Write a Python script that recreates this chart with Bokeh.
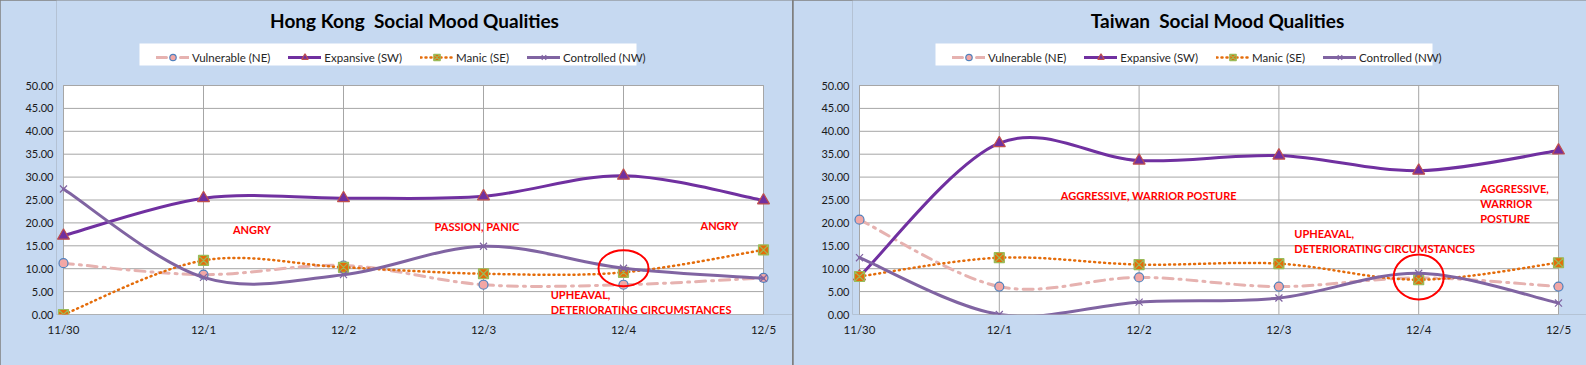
import numpy as np
from bokeh.plotting import figure
from bokeh.layouts import row
from bokeh.models import (Range1d, FixedTicker, NumeralTickFormatter, Legend, LegendItem,
                          Label, BoxAnnotation)
from bokeh.embed import file_html
from bokeh.resources import INLINE
from bokeh.core.properties import value

# ---------------- data ----------------
dates = ["11/30", "12/1", "12/2", "12/3", "12/4", "12/5"]
series_names = ["Vulnerable (NE)", "Expansive (SW)", "Manic (SE)", "Controlled (NW)"]
y_ticks = [0, 5, 10, 15, 20, 25, 30, 35, 40, 45, 50]
y_max = 50

hk_vulnerable = [11.2, 8.7, 10.7, 6.5, 6.5, 8.0]
hk_expansive = [17.2, 25.4, 25.4, 25.8, 30.3, 24.9]
hk_manic = [0.0, 11.8, 10.3, 8.9, 9.2, 14.1]
hk_controlled = [27.4, 8.1, 8.7, 14.9, 10.1, 7.9]

tw_vulnerable = [20.7, 6.1, 8.1, 6.1, 8.0, 6.1]
tw_expansive = [8.3, 37.4, 33.6, 34.7, 31.4, 35.8]
tw_manic = [8.3, 12.4, 10.9, 11.1, 7.6, 11.3]
tw_controlled = [12.4, 0.0, 2.7, 3.6, 9.0, 2.5]

hk_notes = ["ANGRY", "PASSION, PANIC", "ANGRY", "UPHEAVAL,", "DETERIORATING CIRCUMSTANCES"]
hk_note_x = [1.21, 2.65, 4.55, 3.48, 3.48]
hk_note_y = [18.6, 19.2, 19.4, 4.4, 1.1]
hk_ring = (4, 10.1, 50, 36)

tw_notes = ["AGGRESSIVE, WARRIOR POSTURE", "AGGRESSIVE,", "WARRIOR", "POSTURE",
            "UPHEAVAL,", "DETERIORATING CIRCUMSTANCES"]
tw_note_x = [1.44, 4.44, 4.44, 4.44, 3.11, 3.11]
tw_note_y = [26.0, 27.5, 24.2, 21.0, 17.7, 14.4]
tw_ring = (4, 8.2, 50, 45)

# ---------------- layout / styles ----------------
BG = "#C6D9F1"
GRID = "#A6A6A6"
FONT = "Lato"
HEIGHT = 365
PLOT_PX = 229      # pixel height of the 0..50 plot area
TOP_PX = 314       # pixel distance from figure top to value 0

styles = [
    dict(line_color="#E6B2B0", line_width=3, line_dash="10 6 2 6",
         marker="circle", size=9, fill_color="#F2A7A5", mline="#4F81BD"),
    dict(line_color="#7030A0", line_width=3, line_dash="solid",
         marker="triangle", size=12, fill_color="#7030A0", mline="#C0504D"),
    dict(line_color="#E46C0A", line_width=2.5, line_dash="1 4",
         marker="square_x", size=10, fill_color="#E46C0A", mline="#9BBB59"),
    dict(line_color="#8064A2", line_width=3, line_dash="solid",
         marker="x", size=10, fill_color="#8064A2", mline="#8064A2"),
]


def smooth(xs, ys):
    P = np.column_stack([xs, ys]).astype(float)
    n = len(P)
    ext = np.vstack([P[0], P, P[-1]])
    c0 = P[:-1] + (ext[2:n + 1] - ext[0:n - 1]) / 6.0
    c1 = P[1:] - (ext[3:n + 2] - ext[1:n]) / 6.0
    return P[:-1], P[1:], c0, c1


def make_panel(title, title_cx, series, notes, note_x, note_y, ring,
               width, frame_left, plot_left, plot_w):
    n = len(dates) - 1
    step = plot_w / n
    x_start = -(plot_left - frame_left) / step
    x_end = n + (width - plot_left - plot_w) / step
    xs = list(range(len(dates)))
    p = figure(width=width, height=HEIGHT, x_range=Range1d(x_start, x_end),
               y_range=Range1d(0, y_max * TOP_PX / PLOT_PX),
               output_backend="svg", toolbar_location=None, title_location=None,
               min_border_left=frame_left, min_border_right=0, min_border_top=0,
               min_border_bottom=HEIGHT - TOP_PX)
    p.border_fill_color = BG
    p.background_fill_color = BG
    p.outline_line_color = None

    # white plot area with its border
    p.quad(left=[0], right=[n], bottom=[0], top=[y_max],
           fill_color="white", line_color=GRID, line_width=1, level="image")

    # gridlines restricted to the plot area
    p.xgrid.visible = False
    p.ygrid.visible = False
    p.segment(x0=xs, x1=xs, y0=[0] * len(xs), y1=[y_max] * len(xs),
              line_color=GRID, line_width=1, level="underlay")
    p.segment(x0=[0] * len(y_ticks), x1=[n] * len(y_ticks), y0=y_ticks, y1=y_ticks,
              line_color=GRID, line_width=1, level="underlay")

    p.xaxis.ticker = FixedTicker(ticks=xs)
    p.xaxis.major_label_overrides = {i: d for i, d in enumerate(dates)}
    p.yaxis.ticker = FixedTicker(ticks=y_ticks)
    p.yaxis.formatter = NumeralTickFormatter(format="0.00")
    for ax in (p.xaxis, p.yaxis):
        ax.axis_line_color = None
        ax.major_tick_line_color = None
        ax.minor_tick_line_color = None
        ax.major_tick_out = 0
        ax.major_tick_in = 0
        ax.major_label_text_font = FONT
        ax.major_label_text_font_size = "11.5px"
        ax.major_label_text_color = "#1A1A1A"
    p.yaxis.major_label_text_font_size = "11px"
    p.xaxis.major_label_standoff = 8
    p.yaxis.major_label_standoff = 3

    items = []
    for name, ys, st in zip(series_names, series, styles):
        a, b, c0, c1 = smooth(xs, ys)
        r1 = p.bezier(x0=a[:, 0], y0=a[:, 1], x1=b[:, 0], y1=b[:, 1],
                      cx0=c0[:, 0], cy0=c0[:, 1], cx1=c1[:, 0], cy1=c1[:, 1],
                      line_color=st["line_color"], line_width=st["line_width"],
                      line_dash=st["line_dash"], line_cap="round")
        r2 = p.scatter(xs, ys, marker=st["marker"], size=st["size"],
                       fill_color=st["fill_color"], line_color=st["mline"], line_width=1.2)
        items.append(LegendItem(label=name, renderers=[r1, r2]))

    p.text(x=note_x, y=note_y, text=notes, text_font=value(FONT), text_font_style="bold",
           text_font_size="11px", text_color="#FF0000", text_baseline="middle", text_align="left")

    rx, ry, rw, rh = ring
    p.ellipse(x=[rx], y=[ry], width=rw, height=rh, width_units="screen", height_units="screen",
              fill_alpha=0, line_color="#FF0000", line_width=2)

    # legend box (pixel offsets relative to the plot area's left edge / the zero line)
    off = plot_left - frame_left
    box = BoxAnnotation(left=off + 76, right=off + 573, top=TOP_PX - 43, bottom=TOP_PX - 65,
                        left_units="screen", right_units="screen", top_units="screen",
                        bottom_units="screen", fill_color="white", fill_alpha=1, line_color=None)
    p.add_layout(box)

    legend = Legend(items=items, orientation="horizontal", location=(off + 93, TOP_PX - 65),
                    background_fill_alpha=0, border_line_color=None, padding=3, spacing=18,
                    glyph_width=33, glyph_height=16, label_height=16, label_standoff=3,
                    label_text_font=FONT, label_text_font_size="11.5px", label_text_color="#262626")
    p.add_layout(legend, "center")

    p.add_layout(Label(x=off + title_cx, y=TOP_PX - 20, x_units="screen", y_units="screen",
                       text=title, text_align="center", text_baseline="alphabetic", text_font=FONT,
                       text_font_style="bold", text_font_size="19px", text_color="#000000"))
    return p


p1 = make_panel("Hong Kong\u00a0 Social Mood Qualities", 351,
                [hk_vulnerable, hk_expansive, hk_manic, hk_controlled],
                hk_notes, hk_note_x, hk_note_y, hk_ring, 792, 56, 63, 700)
p2 = make_panel("Taiwan\u00a0 Social Mood Qualities", 358,
                [tw_vulnerable, tw_expansive, tw_manic, tw_controlled],
                tw_notes, tw_note_x, tw_note_y, tw_ring, 793, 59, 66, 699)

layout = row(p1, p2, spacing=1, styles={"background-color": "#7F7F7F"})
open("out.html", "w").write(file_html(layout, INLINE))
